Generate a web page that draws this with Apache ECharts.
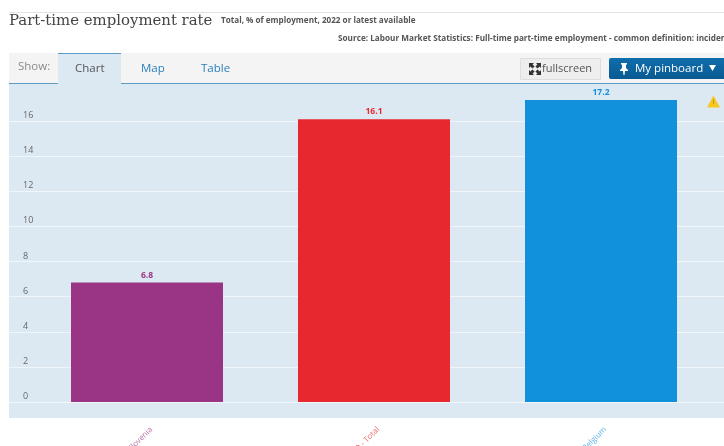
<!DOCTYPE html>
<html>
<head>
<meta charset="utf-8">
<style>html,body{margin:0;padding:0;background:#fff;overflow:hidden}#c{width:724px;height:446px}</style>
<script src="https://cdn.jsdelivr.net/npm/echarts@6/dist/echarts.min.js"></script>
</head>
<body>
<div id="c"></div>
<script>
const categories = ['Slovenia', 'OECD - Total', 'Belgium'];
const values = [6.8, 16.1, 17.2];
const colors = ['#993584', '#e8282f', '#1190dc'];
const yMax = 17.5;
const yInterval = 2;

const titleText = 'Part-time employment rate';
const subtitleText = 'Total, % of employment, 2022 or latest available';
const sourceText = 'Source: Labour Market Statistics: Full-time part-time employment - common definition: incidence';

const uiFont = '"Open Sans", "Noto Sans", sans-serif';
const txt = (x, y, text, size, fill, extra) => ({
  type: 'text', x, y, silent: true,
  style: Object.assign({ text, fontSize: size, fill, fontFamily: uiFont, verticalAlign: 'middle' }, extra || {})
});
const box = (x, y, w, h, fill, extra) => ({
  type: 'rect', silent: true, shape: { x, y, width: w, height: h }, style: Object.assign({ fill }, extra || {})
});
const poly = (points, fill) => ({ type: 'polygon', silent: true, shape: { points }, style: { fill } });

// One corner arrow of the fullscreen icon, pointing away from the icon's centre
const cornerArrow = (cx, cy, sx, sy) => poly([
  [cx, cy], [cx + sx * 5, cy], [cx + sx * 3.6, cy + sy * 1.4], [cx + sx * 5.6, cy + sy * 3.4],
  [cx + sx * 3.4, cy + sy * 5.6], [cx + sx * 1.4, cy + sy * 3.6], [cx, cy + sy * 5]
], '#333');

// Rich-text styles for the slanted category labels, one per bar colour
const categoryLabelStyles = {};
colors.forEach((color, i) => {
  categoryLabelStyles['c' + i] = { color, fontSize: 8, fontFamily: uiFont, padding: [2, 0, 0, 0] };
});

const chart = echarts.init(document.getElementById('c'), null, { renderer: 'canvas' });
chart.setOption({
  animation: false,
  backgroundColor: '#ffffff',
  graphic: { elements: [
    // page header
    box(9, 12, 715, 1, '#e3e3e3', { z: 0 }),
    txt(9, 21, titleText, 14.9, '#444444', { fontFamily: '"DejaVu Serif", serif' }),
    txt(221, 20.5, subtitleText, 8.15, '#555', { fontWeight: 'bold' }),
    txt(338, 39, sourceText, 8.2, '#555', { fontWeight: 'bold' }),
    // panel and tab strip
    { type: 'group', z: -1, silent: true, children: [
      box(9, 53, 715, 30, '#f4f4f4'),
      box(9, 83, 715, 335, '#dde9f2'),
      box(9, 83, 715, 1, '#5f9cc5'),
      box(58, 53, 63, 31, '#dde9f2'),
      box(58, 53, 63, 1, '#5f9cc5')
    ]},
    txt(18, 67, 'Show:', 11.5, '#8a8a8a'),
    txt(75, 69, 'Chart', 11.5, '#555'),
    txt(141, 69, 'Map', 11.5, '#2a7fba'),
    txt(201, 69, 'Table', 11.5, '#2a7fba'),
    // fullscreen button
    box(520.5, 58.5, 80, 21, '#eeeeee', { stroke: '#dedede', lineWidth: 1 }),
    cornerArrow(529, 63, 1, 1),
    cornerArrow(541, 63, -1, 1),
    cornerArrow(529, 75, 1, -1),
    cornerArrow(541, 75, -1, -1),
    txt(542, 69, 'fullscreen', 11, '#555'),
    // pinboard button
    { type: 'rect', silent: true, shape: { x: 609, y: 58, width: 115, height: 21, r: [2, 0, 0, 2] },
      style: { fill: new echarts.graphic.LinearGradient(0, 0, 0, 1, [
        { offset: 0, color: '#0f6eac' }, { offset: 1, color: '#0a5a92' }]) } },
    poly([[621, 63], [627, 63], [627, 64], [626, 65], [626, 68], [628, 70], [628, 71], [625, 71],
          [624.5, 75], [623.5, 75], [623, 71], [620, 71], [620, 70], [622, 68], [622, 65], [621, 64]], '#ffffff'),
    txt(635, 69, 'My pinboard', 11.5, '#ffffff'),
    poly([[709, 65], [716, 65], [712.5, 71]], '#ffffff'),
    // data warning marker
    poly([[713.5, 95.5], [720, 107.5], [707, 107.5]], '#f6c81e'),
    box(713, 99, 1, 5, '#c99a10')
  ]},
  grid: [
    { left: 33.5, right: 9.5, top: 94.7, bottom: 44, outerBoundsMode: 'none' },
    { left: 9, right: 0, top: 94.7, bottom: 44, outerBoundsMode: 'none' }
  ],
  xAxis: [
    {
      type: 'category', gridIndex: 0,
      data: categories,
      axisLine: { show: false }, axisTick: { show: false },
      axisLabel: {
        rotate: 45, interval: 0, margin: 22, opacity: 0.7, verticalAlign: 'top',
        formatter: (name, i) => `{c${i}|${name}}`,
        rich: categoryLabelStyles
      }
    },
    { type: 'category', gridIndex: 1, data: categories, show: false }
  ],
  yAxis: [
    { type: 'value', gridIndex: 0, min: 0, max: yMax, interval: yInterval, show: false },
    {
      type: 'value', gridIndex: 1, min: 0, max: yMax, interval: yInterval,
      axisLine: { show: false }, axisTick: { show: false },
      splitLine: { show: true, showMaxLine: false, lineStyle: { color: '#f1f6fa', width: 1 } },
      axisLabel: {
        inside: true, margin: 14, color: '#666', fontSize: 9, fontFamily: uiFont,
        verticalAlign: 'bottom', showMaxLabel: false, padding: [0, 0, 1, 0]
      }
    }
  ],
  series: [{
    type: 'bar', xAxisIndex: 0, yAxisIndex: 0, barWidth: 152, z: 3,
    data: values.map((v, i) => ({
      value: v,
      itemStyle: { color: colors[i] },
      label: { color: colors[i] }
    })),
    label: { show: true, position: 'top', distance: 3, fontSize: 8.5, fontWeight: 'bold', fontFamily: uiFont, formatter: p => p.value.toFixed(1) }
  }]
});
</script>
</body>
</html>
